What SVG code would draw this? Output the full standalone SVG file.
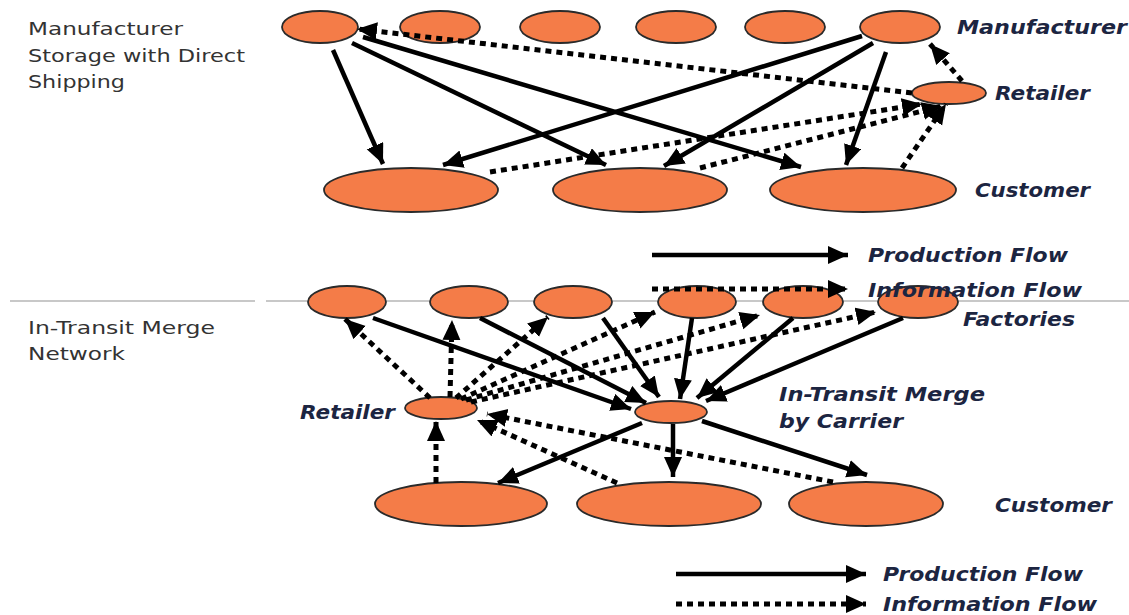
<svg xmlns="http://www.w3.org/2000/svg" width="1129" height="615" viewBox="0 0 1129 615">
<defs>
<marker id="ah" markerUnits="userSpaceOnUse" markerWidth="22" markerHeight="20" refX="20" refY="9" orient="auto">
<path d="M0,0 L20,9 L0,18 z" fill="#000"/>
</marker>
</defs>
<style>
.nd{fill:#F47C48;stroke:#2a2a2a;stroke-width:1.8}
.pf{stroke:#000;stroke-width:4.5;fill:none;marker-end:url(#ah)}
.if{stroke:#000;stroke-width:5;fill:none;stroke-dasharray:6 5;marker-end:url(#ah)}
.lab{font-family:"DejaVu Sans",sans-serif;font-weight:bold;font-style:italic;font-size:19px;fill:#1c2541}
.cap{font-family:"DejaVu Sans",sans-serif;font-size:17px;fill:#333}
.sep{stroke:#c8c8c8;stroke-width:2}
</style>
<rect width="1129" height="615" fill="#fff"/>

<g id="captions">
<text class="cap" x="28" y="35" textLength="155" lengthAdjust="spacingAndGlyphs">Manufacturer</text>
<text class="cap" x="28" y="62" textLength="217" lengthAdjust="spacingAndGlyphs">Storage with Direct</text>
<text class="cap" x="28" y="88" textLength="97" lengthAdjust="spacingAndGlyphs">Shipping</text>
<text class="cap" x="28" y="334" textLength="187" lengthAdjust="spacingAndGlyphs">In-Transit Merge</text>
<text class="cap" x="28" y="360" textLength="97" lengthAdjust="spacingAndGlyphs">Network</text>
</g>
<g id="separator">
<line class="sep" x1="10" y1="301" x2="255" y2="301"/>
<line class="sep" x1="266" y1="301" x2="1129" y2="301"/>
</g>

<g id="top-manufacturers">
<ellipse class="nd" cx="320" cy="27" rx="38" ry="16"/>
<ellipse class="nd" cx="440" cy="27" rx="40" ry="16"/>
<ellipse class="nd" cx="560" cy="27" rx="40" ry="16"/>
<ellipse class="nd" cx="676" cy="27" rx="40" ry="16"/>
<ellipse class="nd" cx="785" cy="27" rx="40" ry="16"/>
<ellipse class="nd" cx="900" cy="27" rx="40" ry="16"/>
<text class="lab" x="957" y="34" textLength="170" lengthAdjust="spacingAndGlyphs">Manufacturer</text>
</g>
<g id="top-retailer">
<ellipse class="nd" cx="949" cy="93" rx="37" ry="11"/>
<text class="lab" x="995" y="100" textLength="95" lengthAdjust="spacingAndGlyphs">Retailer</text>
</g>
<g id="top-customers">
<ellipse class="nd" cx="411" cy="190" rx="87" ry="22"/>
<ellipse class="nd" cx="640" cy="190" rx="87" ry="22"/>
<ellipse class="nd" cx="863" cy="190" rx="93" ry="22"/>
<text class="lab" x="975" y="197" textLength="115" lengthAdjust="spacingAndGlyphs">Customer</text>
</g>

<g id="top-connectors">
<line class="pf" x1="333" y1="50" x2="383" y2="164"/>
<line class="pf" x1="352" y1="43" x2="606" y2="165"/>
<line class="pf" x1="363" y1="37" x2="801" y2="167"/>
<line class="pf" x1="862" y1="36" x2="443" y2="165"/>
<line class="pf" x1="873" y1="43" x2="664" y2="166"/>
<line class="pf" x1="886" y1="52" x2="846" y2="165"/>
<line class="if" x1="912" y1="93" x2="357" y2="29"/>
<line class="if" x1="962" y1="81" x2="930" y2="44"/>
<line class="if" x1="490" y1="172" x2="922" y2="104"/>
<line class="if" x1="700" y1="168" x2="942" y2="106"/>
<line class="if" x1="902" y1="168" x2="946" y2="104"/>
</g>

<g id="legend-top">
<line class="pf" x1="652" y1="255" x2="848" y2="255"/>
<text class="lab" x="868" y="262" textLength="200" lengthAdjust="spacingAndGlyphs">Production Flow</text>
</g>

<g id="factories">
<ellipse class="nd" cx="347" cy="302" rx="39" ry="16"/>
<ellipse class="nd" cx="469" cy="302" rx="39" ry="16"/>
<ellipse class="nd" cx="573" cy="302" rx="39" ry="16"/>
<ellipse class="nd" cx="697" cy="302" rx="39" ry="16"/>
<ellipse class="nd" cx="803" cy="302" rx="40" ry="16"/>
<ellipse class="nd" cx="918" cy="302" rx="40" ry="16"/>
<text class="lab" x="963" y="326" textLength="112" lengthAdjust="spacingAndGlyphs">Factories</text>
</g>
<g id="bottom-retailer">
<ellipse class="nd" cx="441" cy="408" rx="36" ry="11"/>
<text class="lab" x="300" y="419" textLength="95" lengthAdjust="spacingAndGlyphs">Retailer</text>
</g>
<g id="merge">
<ellipse class="nd" cx="671" cy="412" rx="36" ry="11"/>
<text class="lab" x="779" y="401" textLength="206" lengthAdjust="spacingAndGlyphs">In-Transit Merge</text>
<text class="lab" x="779" y="428" textLength="124" lengthAdjust="spacingAndGlyphs">by Carrier</text>
</g>
<g id="bottom-customers">
<ellipse class="nd" cx="461" cy="504" rx="86" ry="22"/>
<ellipse class="nd" cx="669" cy="504" rx="92" ry="22"/>
<ellipse class="nd" cx="866" cy="504" rx="77" ry="22"/>
<text class="lab" x="995" y="512" textLength="117" lengthAdjust="spacingAndGlyphs">Customer</text>
</g>

<g id="bottom-connectors">
<line class="pf" x1="373" y1="318" x2="631" y2="409"/>
<line class="pf" x1="480" y1="318" x2="646" y2="403"/>
<line class="pf" x1="603" y1="318" x2="659" y2="397"/>
<line class="pf" x1="692" y1="318" x2="680" y2="399"/>
<line class="pf" x1="793" y1="318" x2="697" y2="398"/>
<line class="pf" x1="903" y1="318" x2="706" y2="401"/>
<line class="pf" x1="642" y1="423" x2="498" y2="483"/>
<line class="pf" x1="673" y1="424" x2="673" y2="477"/>
<line class="pf" x1="702" y1="421" x2="867" y2="475"/>
<line class="if" x1="430" y1="398" x2="345" y2="319"/>
<line class="if" x1="450" y1="397" x2="452" y2="320"/>
<line class="if" x1="456" y1="398" x2="548" y2="317"/>
<line class="if" x1="461" y1="399" x2="655" y2="312"/>
<line class="if" x1="466" y1="400" x2="760" y2="315"/>
<line class="if" x1="471" y1="402" x2="876" y2="312"/>
<line class="if" x1="436" y1="483" x2="436" y2="421"/>
<line class="if" x1="617" y1="483" x2="477" y2="420"/>
<line class="if" x1="833" y1="482" x2="487" y2="414"/>
</g>

<g id="legend-info-top">
<line class="if" x1="652" y1="289" x2="848" y2="289"/>
<text class="lab" x="868" y="297" textLength="214" lengthAdjust="spacingAndGlyphs">Information Flow</text>
</g>

<g id="legend-bottom">
<line class="pf" x1="676" y1="574" x2="866" y2="574"/>
<text class="lab" x="883" y="581" textLength="200" lengthAdjust="spacingAndGlyphs">Production Flow</text>
<line class="if" x1="676" y1="604" x2="866" y2="604"/>
<text class="lab" x="883" y="611" textLength="214" lengthAdjust="spacingAndGlyphs">Information Flow</text>
</g>
</svg>
